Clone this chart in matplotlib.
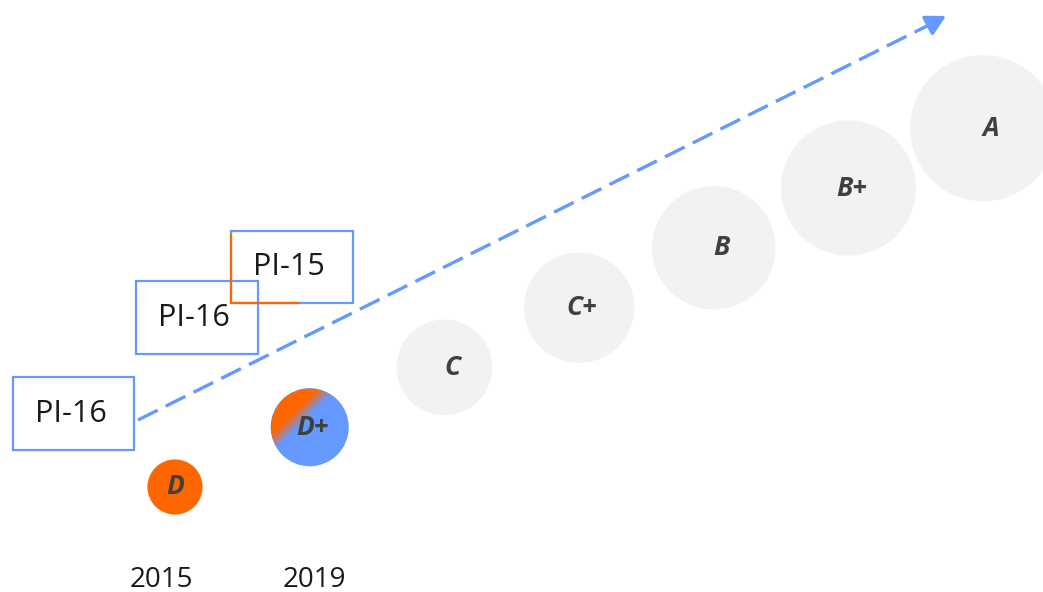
import matplotlib.pyplot as plt
import numpy as np
from matplotlib.patches import Ellipse, Rectangle


W_PX, H_PX = 1043, 592

# grade ladder, score drives bubble area
GRADES = ["D", "D+", "C", "C+", "B", "B+", "A"]
GRADE_SCORE = [1, 2, 3, 4, 5, 6, 7]

# assessment years and the grade reached
YEARS = ["2015", "2019"]
YEAR_GRADE = ["D", "D+"]

# indicator boxes
BOX_LABELS = ["PI-16", "PI-16", "PI-15"]

BLUE = "#6699FF"
ORANGE = "#FF6600"
GREY = "#F2F2F2"
TEXT_DARK = "#404040"

# layout: grade index -> pixel
X0_PX, Y0_PX = 175, 487
DX_PX, DY_PX = 134.7, 59.8
R1_PX = 27.6  # radius of score-1 bubble


def px(x, y):
    return (x - X0_PX) / DX_PX, (Y0_PX - y) / DY_PX


def main() -> None:
    fig = plt.figure(figsize=(W_PX / 100, H_PX / 100), dpi=100)
    ax = fig.add_axes([0, 0, 1, 1])
    ax.set_xlim(px(0, 0)[0], px(W_PX, 0)[0])
    ax.set_ylim(px(0, H_PX)[1], px(0, 0)[1])
    ax.axis("off")

    idx = np.arange(len(GRADES))
    scores = np.array(GRADE_SCORE, dtype=float)
    diam_pt = 2 * R1_PX * np.sqrt(scores) * 0.72
    colors = []
    for g in GRADES:
        if g == YEAR_GRADE[0]:
            colors.append(ORANGE)
        elif g == YEAR_GRADE[1]:
            colors.append(BLUE)
        else:
            colors.append(GREY)
    ax.scatter(idx, idx, s=diam_pt ** 2, c=colors, linewidths=0, zorder=2)

    # orange -> blue gradient on the 2019 bubble
    i2 = GRADES.index(YEAR_GRADE[1])
    r = R1_PX * np.sqrt(GRADE_SCORE[i2])
    w, h = 2 * r / DX_PX, 2 * r / DY_PX
    n = 200
    u, v = np.meshgrid(np.linspace(-1, 1, n), np.linspace(-1, 1, n))
    t = (u - v) / np.sqrt(2)
    alpha = np.clip((-0.38 - t) / 0.35 + 0.5, 0, 1)
    img = np.zeros((n, n, 4))
    img[..., 0] = 1.0
    img[..., 1] = 0.4
    img[..., 3] = alpha
    im = ax.imshow(img, extent=(i2 - w / 2, i2 + w / 2, i2 - h / 2, i2 + h / 2),
                   origin="lower", aspect="auto", zorder=3, interpolation="bilinear")
    clip = Ellipse((i2, i2), w * 0.99, h * 0.99, transform=ax.transData)
    im.set_clip_path(clip)

    # grade labels (single letters sit a little right of centre)
    for i, g in enumerate(GRADES):
        shift = 0 if i == 0 else (3 if "+" in g else 8)
        ax.text(i + shift / DX_PX, i, g, ha="center", va="center", fontsize=19,
                fontweight="bold", fontstyle="italic", color=TEXT_DARK,
                family=["Open Sans", "DejaVu Sans"], zorder=4)

    # year labels
    year_px = [(161, 580), (314, 580)]
    for lab, (x, y) in zip(YEARS, year_px):
        ax.text(*px(x, y), lab, ha="center", va="center", fontsize=20,
                color="#1a1a1a", family=["Open Sans", "DejaVu Sans"])

    # indicator boxes
    box_px = [(13, 377, 134, 450), (136, 281, 258, 354), (231, 231, 353, 303)]
    for lab, (x0, y0, x1, y1) in zip(BOX_LABELS, box_px):
        (a, b), (c, d) = px(x0, y1), px(x1, y0)
        ax.add_patch(Rectangle((a, b), c - a, d - b, fill=False,
                               edgecolor=BLUE, lw=1.6, zorder=5))
        ax.text((a + c) / 2 - 3 / DX_PX, (b + d) / 2, lab, ha="center",
                va="center", fontsize=22, color="#1a1a1a",
                family=["Open Sans", "DejaVu Sans"], zorder=5)

    # orange corner on PI-15 box
    xs, ys = zip(px(231, 234), px(231, 303), px(300, 303))
    ax.plot(xs, ys, color=ORANGE, lw=1.6, zorder=6, solid_capstyle="butt")

    # dashed trend arrow
    start, base, tip = px(138, 420), px(927, 26), px(946, 16)
    ax.plot([start[0], base[0]], [start[1], base[1]], color=BLUE, lw=2.4,
            linestyle=(0, (6.6, 2.7)), zorder=1)
    ax.annotate("", xy=tip, xytext=base,
                arrowprops=dict(arrowstyle="-|>,head_length=1.2,head_width=0.65",
                                color=BLUE, lw=2.4, shrinkA=0, shrinkB=0),
                zorder=1)

    fig.savefig("out.png", dpi=100)
    plt.close(fig)


if __name__ == "__main__":
    main()
